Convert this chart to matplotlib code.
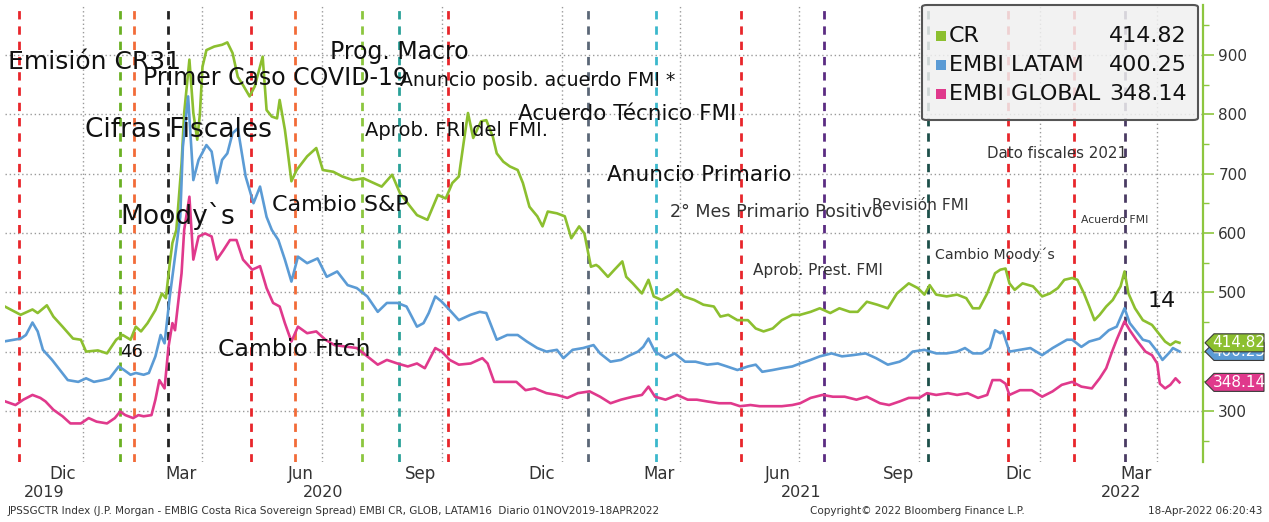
import matplotlib
matplotlib.use("Agg")
import matplotlib.pyplot as plt
import matplotlib.transforms as mtransforms
from matplotlib.patches import FancyBboxPatch, Polygon, Rectangle
import pandas as pd

W, H = 1269, 522

# ---- data (spread, bp) ----
cr_dates = [
    "2019-11-01", "2019-11-14", "2019-11-23", "2019-11-27", "2019-12-04", "2019-12-09", "2019-12-16", "2019-12-24", "2019-12-30",
    "2020-01-03", "2020-01-12", "2020-01-19", "2020-01-26", "2020-01-31", "2020-02-06", "2020-02-10", "2020-02-14", "2020-02-19", "2020-02-25",
    "2020-03-01", "2020-03-04", "2020-03-07", "2020-03-09", "2020-03-12", "2020-03-16", "2020-03-18", "2020-03-22", "2020-03-25", "2020-03-28", "2020-03-30",
    "2020-04-01", "2020-04-04", "2020-04-10", "2020-04-16", "2020-04-20", "2020-04-24", "2020-04-28",
    "2020-05-02", "2020-05-07", "2020-05-11", "2020-05-17", "2020-05-20", "2020-05-24", "2020-05-28", "2020-05-30",
    "2020-06-03", "2020-06-05", "2020-06-08", "2020-06-12", "2020-06-20", "2020-06-27",
    "2020-07-02", "2020-07-10", "2020-07-17", "2020-07-25",
    "2020-08-02", "2020-08-10", "2020-08-16", "2020-08-24", "2020-08-30",
    "2020-09-07", "2020-09-12", "2020-09-20", "2020-09-28",
    "2020-10-04", "2020-10-09", "2020-10-14", "2020-10-18", "2020-10-21", "2020-10-25", "2020-10-31",
    "2020-11-04", "2020-11-09", "2020-11-12", "2020-11-17", "2020-11-22", "2020-11-28",
    "2020-12-02", "2020-12-07", "2020-12-13", "2020-12-17", "2020-12-21", "2020-12-28",
    "2021-01-03", "2021-01-08", "2021-01-14", "2021-01-18", "2021-01-23", "2021-01-27", "2021-01-29",
    "2021-02-05", "2021-02-10", "2021-02-16", "2021-02-19", "2021-02-24",
    "2021-03-03", "2021-03-08", "2021-03-12", "2021-03-18", "2021-03-25", "2021-03-30",
    "2021-04-04", "2021-04-12", "2021-04-19", "2021-04-27",
    "2021-05-02", "2021-05-08", "2021-05-15", "2021-05-23", "2021-05-29",
    "2021-06-04", "2021-06-11", "2021-06-18", "2021-06-26",
    "2021-07-02", "2021-07-10", "2021-07-17", "2021-07-25",
    "2021-08-01", "2021-08-09", "2021-08-15", "2021-08-22", "2021-08-30",
    "2021-09-07", "2021-09-14", "2021-09-23", "2021-09-30",
    "2021-10-05", "2021-10-09", "2021-10-14", "2021-10-22", "2021-10-30",
    "2021-11-06", "2021-11-11", "2021-11-16", "2021-11-22", "2021-11-28",
    "2021-12-02", "2021-12-06", "2021-12-09", "2021-12-13", "2021-12-19", "2021-12-27",
    "2022-01-03", "2022-01-09", "2022-01-15", "2022-01-20", "2022-01-26", "2022-01-30",
    "2022-02-04", "2022-02-08", "2022-02-12", "2022-02-16", "2022-02-21", "2022-02-26",
    "2022-03-04", "2022-03-07", "2022-03-10", "2022-03-15", "2022-03-21", "2022-03-28",
    "2022-04-02", "2022-04-07", "2022-04-11", "2022-04-15", "2022-04-18",
]
cr_values = [
    477, 462, 471, 465, 478, 459, 442, 422, 420,
    400, 402, 397, 420, 428, 420, 442, 434, 448, 470,
    498, 490, 549, 583, 605, 717, 802, 892, 802, 757, 800,
    880, 908, 914, 917, 921, 903, 863,
    849, 830, 847, 897, 807, 796, 793, 824,
    774, 740, 687, 706, 729, 743,
    706, 703, 695, 689,
    692, 684, 678, 698, 667,
    644, 630, 622, 664,
    658, 684, 695, 757, 802, 760, 788,
    790, 762, 734, 720, 712, 706,
    684, 644, 628, 611, 636, 633,
    628, 591, 611, 599, 543, 546, 543,
    526, 538, 552, 526, 515,
    498, 521, 493, 487, 496, 505,
    493, 487, 479, 476,
    459, 462, 453, 453, 439,
    434, 439, 453, 462,
    462, 467, 473, 465,
    473, 467, 467, 484, 479,
    473, 498, 515, 507,
    496, 512, 496, 493, 496,
    490, 473, 473, 498, 532,
    538, 540, 515, 504, 515, 510,
    493, 498, 507, 521, 524, 521,
    498, 476, 453, 462, 476, 487,
    510, 535, 498, 473, 453, 445,
    431, 417, 411, 417, 414.82,
]

latam_dates = [
    "2019-11-01", "2019-11-14", "2019-11-18", "2019-11-23", "2019-11-27", "2019-12-01", "2019-12-08", "2019-12-14", "2019-12-20", "2019-12-28",
    "2020-01-03", "2020-01-09", "2020-01-16", "2020-01-21", "2020-01-28", "2020-02-01", "2020-02-06", "2020-02-10", "2020-02-16", "2020-02-20", "2020-02-25", "2020-02-29",
    "2020-03-03", "2020-03-07", "2020-03-11", "2020-03-15", "2020-03-17", "2020-03-21", "2020-03-25", "2020-03-29",
    "2020-04-04", "2020-04-08", "2020-04-12", "2020-04-16", "2020-04-20", "2020-04-24", "2020-04-28",
    "2020-05-04", "2020-05-10", "2020-05-15", "2020-05-20", "2020-05-24", "2020-05-29",
    "2020-06-03", "2020-06-08", "2020-06-13", "2020-06-20", "2020-06-28",
    "2020-07-05", "2020-07-13", "2020-07-21", "2020-07-28",
    "2020-08-05", "2020-08-13", "2020-08-20", "2020-08-28",
    "2020-09-04", "2020-09-12", "2020-09-17", "2020-09-21", "2020-09-26",
    "2020-10-01", "2020-10-07", "2020-10-14", "2020-10-23", "2020-10-30",
    "2020-11-04", "2020-11-12", "2020-11-20", "2020-11-28",
    "2020-12-05", "2020-12-13", "2020-12-20", "2020-12-28",
    "2021-01-02", "2021-01-09", "2021-01-17", "2021-01-25", "2021-01-30",
    "2021-02-07", "2021-02-15", "2021-02-22", "2021-02-28",
    "2021-03-04", "2021-03-08", "2021-03-13", "2021-03-21", "2021-03-28",
    "2021-04-05", "2021-04-13", "2021-04-22", "2021-04-30",
    "2021-05-07", "2021-05-15", "2021-05-23", "2021-05-29",
    "2021-06-03", "2021-06-11", "2021-06-18", "2021-06-26",
    "2021-07-02", "2021-07-10", "2021-07-17", "2021-07-26",
    "2021-08-03", "2021-08-11", "2021-08-21", "2021-08-29",
    "2021-09-07", "2021-09-16", "2021-09-21", "2021-09-26",
    "2021-10-05", "2021-10-14", "2021-10-22", "2021-10-30",
    "2021-11-05", "2021-11-11", "2021-11-18", "2021-11-24", "2021-11-28",
    "2021-12-02", "2021-12-04", "2021-12-09", "2021-12-17", "2021-12-25",
    "2022-01-03", "2022-01-11", "2022-01-22", "2022-01-26",
    "2022-02-02", "2022-02-08", "2022-02-16", "2022-02-23",
    "2022-03-01", "2022-03-07", "2022-03-11", "2022-03-16", "2022-03-21", "2022-03-26",
    "2022-04-01", "2022-04-05", "2022-04-11", "2022-04-13", "2022-04-18",
]
latam_values = [
    417, 422, 428, 449, 434, 403, 386, 369, 352, 349,
    355, 349, 352, 355, 375, 369, 361, 364, 361, 364, 392, 428,
    414, 493, 560, 627, 745, 830, 689, 723,
    748, 737, 684, 723, 734, 768, 776,
    695, 650, 678, 627, 605, 588,
    555, 518, 560, 549, 557,
    526, 535, 512, 507,
    493, 467, 482, 482,
    476, 442, 448, 465, 493,
    484, 470, 453, 462, 467,
    465, 420, 428, 428,
    417, 406, 400, 403,
    389, 403, 406, 411, 397,
    383, 386, 394, 400,
    408, 422, 400, 389, 397,
    383, 383, 378, 380,
    375, 369, 375, 378,
    366, 369, 372, 375,
    380, 386, 392, 397,
    392, 394, 397, 389,
    378, 383, 389, 400,
    403, 397, 397, 400,
    406, 397, 397, 406, 436,
    431, 434, 400, 403, 406,
    394, 406, 420, 420,
    408, 417, 422, 436,
    442, 473, 448, 434, 420, 417,
    400, 386, 400, 406, 400.25,
]

global_dates = [
    "2019-11-01", "2019-11-10", "2019-11-16", "2019-11-23", "2019-11-29", "2019-12-03", "2019-12-09", "2019-12-16", "2019-12-22", "2019-12-30",
    "2020-01-05", "2020-01-11", "2020-01-19", "2020-01-25", "2020-01-29", "2020-02-02", "2020-02-08", "2020-02-12", "2020-02-16", "2020-02-22", "2020-02-25", "2020-02-28",
    "2020-03-03", "2020-03-06", "2020-03-09", "2020-03-11", "2020-03-16", "2020-03-18", "2020-03-22", "2020-03-25", "2020-03-29",
    "2020-04-03", "2020-04-08", "2020-04-12", "2020-04-17", "2020-04-22", "2020-04-27",
    "2020-05-02", "2020-05-09", "2020-05-15", "2020-05-20", "2020-05-25", "2020-05-30",
    "2020-06-03", "2020-06-08", "2020-06-13", "2020-06-20", "2020-06-27",
    "2020-07-04", "2020-07-11", "2020-07-21", "2020-07-28",
    "2020-08-05", "2020-08-13", "2020-08-20", "2020-08-28",
    "2020-09-05", "2020-09-12", "2020-09-18", "2020-09-26",
    "2020-10-01", "2020-10-07", "2020-10-14", "2020-10-23",
    "2020-11-01", "2020-11-05", "2020-11-10", "2020-11-18", "2020-11-27",
    "2020-12-04", "2020-12-11", "2020-12-20", "2020-12-28",
    "2021-01-05", "2021-01-13", "2021-01-22", "2021-01-30",
    "2021-02-07", "2021-02-15", "2021-02-24",
    "2021-03-03", "2021-03-08", "2021-03-13", "2021-03-21", "2021-03-30",
    "2021-04-07", "2021-04-14", "2021-04-22",
    "2021-05-01", "2021-05-10", "2021-05-17", "2021-05-25",
    "2021-06-01", "2021-06-09", "2021-06-18", "2021-06-26",
    "2021-07-02", "2021-07-10", "2021-07-19", "2021-07-27",
    "2021-08-05", "2021-08-14", "2021-08-22",
    "2021-09-01", "2021-09-08", "2021-09-16", "2021-09-23",
    "2021-10-01", "2021-10-07", "2021-10-14", "2021-10-23", "2021-10-30",
    "2021-11-07", "2021-11-15", "2021-11-22", "2021-11-26",
    "2021-12-02", "2021-12-06", "2021-12-09", "2021-12-17", "2021-12-26",
    "2022-01-03", "2022-01-11", "2022-01-18", "2022-01-26",
    "2022-02-02", "2022-02-10", "2022-02-16", "2022-02-21", "2022-02-26",
    "2022-03-01", "2022-03-07", "2022-03-11", "2022-03-16", "2022-03-23", "2022-03-28",
    "2022-04-01", "2022-04-03", "2022-04-07", "2022-04-11", "2022-04-15", "2022-04-18",
]
global_values = [
    317, 310, 319, 327, 322, 316, 302, 291, 279, 279,
    288, 282, 279, 288, 299, 293, 288, 293, 291, 293, 319, 352,
    338, 408, 448, 436, 532, 605, 661, 555, 594,
    599, 594, 555, 571, 588, 588,
    555, 538, 544, 507, 482, 476,
    448, 417, 442, 431, 434,
    420, 411, 408, 406,
    392, 378, 386, 380,
    375, 380, 372, 406,
    400, 386, 378, 380,
    389, 380, 349, 349, 349,
    335, 338, 330, 327,
    322, 330, 333, 324,
    313, 319, 324,
    327, 341, 324, 319, 327,
    319, 319, 316,
    313, 313, 308, 310,
    308, 308, 308, 310,
    313, 322, 327, 324,
    324, 319, 324,
    313, 310, 316, 322,
    322, 330, 327, 330, 327,
    330, 322, 327, 352,
    352, 346, 327, 335, 335,
    324, 333, 344, 349,
    341, 338, 355, 372, 403,
    420, 451, 436, 420, 400, 394,
    380, 346, 338, 344, 355, 348.14,
]

series_names = ["CR", "EMBI LATAM", "EMBI GLOBAL"]
series_last = ["414.82", "400.25", "348.14"]
series_colors = ["#8cbf2f", "#5b9bd5", "#e0398c"]

event_dates = [
    "2019-11-13", "2020-01-29", "2020-02-09", "2020-03-06", "2020-05-08", "2020-06-11",
    "2020-08-01", "2020-08-29", "2020-10-06", "2021-01-21", "2021-03-14", "2021-05-18",
    "2021-07-20", "2021-10-08", "2021-12-08", "2022-01-27", "2022-03-07",
]
event_colors = [
    "#e8262b", "#6ab023", "#f26b38", "#222222", "#e8262b", "#f26b38",
    "#8cc63f", "#2aa198", "#e8262b", "#5b6777", "#3bb8cc", "#e8262b",
    "#5b2c82", "#1d4f4a", "#e8262b", "#e8262b", "#4a3b63",
]

# (text, left px, centre px, size, colour)
notes = [
    ("Emisión CR31", 8, 62, 18, "#111111"),
    ("Primer Caso COVID-19", 143, 78, 17, "#111111"),
    ("Prog. Macro", 330, 52, 17, "#111111"),
    ("Anuncio posib. acuerdo FMI *", 400, 80, 13.6, "#111111"),
    ("Cifras Fiscales", 85, 130, 19, "#111111"),
    ("Aprob. FRI del FMI.", 365, 131, 14, "#111111"),
    ("Acuerdo Técnico FMI", 518, 114, 15.5, "#111111"),
    ("Anuncio Primario", 607, 175, 15.6, "#111111"),
    ("Moody`s", 120, 216, 19, "#111111"),
    ("Cambio S&P", 272, 205, 16, "#111111"),
    ("2° Mes Primario Positivo", 670, 212, 12.6, "#333333"),
    ("Revisión FMI", 872, 206, 11.2, "#333333"),
    ("Dato fiscales 2021", 987, 154, 10.8, "#333333"),
    ("Acuerdo FMI", 1081, 220, 7.8, "#333333"),
    ("Aprob. Prest. FMI", 753, 271, 11.1, "#333333"),
    ("Cambio Moody´s", 935, 255, 10.2, "#333333"),
    ("46", 120, 352, 13, "#111111"),
    ("Cambio Fitch", 218, 350, 16.9, "#111111"),
    ("14", 1148, 301, 16, "#111111"),
]

month_labels = ["Dic", "Mar", "Jun", "Sep", "Dic", "Mar", "Jun", "Sep", "Dic", "Mar"]
month_label_dates = ["2019-12-16", "2020-03-16", "2020-06-15", "2020-09-15", "2020-12-16",
                     "2021-03-16", "2021-06-15", "2021-09-15", "2021-12-16", "2022-03-16"]
years = [2019, 2020, 2021, 2022]


def fx(x):
    return x / W


def fy(y):
    return 1 - y / H


plt.rcParams["font.family"] = ["DejaVu Sans"]
fig = plt.figure(figsize=(W / 100, H / 100), dpi=100)
fig.patch.set_facecolor("white")
ax = fig.add_axes([fx(5), fy(462), fx(1203) - fx(5), fy(5) - fy(462)])

x0, x1 = pd.Timestamp("2019-11-02"), pd.Timestamp("2022-05-06")
ax.set_xlim(x0, x1)
ax.set_ylim(214, 984)

for s in ("top", "left", "bottom"):
    ax.spines[s].set_visible(False)
ax.spines["right"].set_color("#8dc63f")
ax.spines["right"].set_linewidth(1.6)

ax.yaxis.tick_right()
ax.set_yticks(range(300, 1000, 100))
ax.set_yticks(range(250, 1000, 100), minor=True)
ax.tick_params(axis="y", which="major", direction="out", length=8, width=1.2,
               colors="#8dc63f", labelcolor="#333333", labelsize=11, pad=3)
ax.tick_params(axis="y", which="minor", direction="out", length=4, width=1, colors="#8dc63f")
ax.set_xticks([])

# dotted grid
grid_kw = dict(color="#9a9a9a", linestyle=(0, (1, 2)), linewidth=1, zorder=1)
for v in range(300, 1000, 100):
    ax.axhline(v, **grid_kw)
for d in pd.date_range("2020-01-01", "2022-04-01", freq="QS"):
    ax.axvline(d, **grid_kw)

# event lines
for d, c in zip(event_dates, event_colors):
    ax.axvline(pd.Timestamp(d), color=c, linewidth=2, linestyle=(0, (3, 2.5)), zorder=2)

# series
for dates, vals, col in [(cr_dates, cr_values, series_colors[0]),
                         (latam_dates, latam_values, series_colors[1]),
                         (global_dates, global_values, series_colors[2])]:
    ax.plot(pd.to_datetime(dates), vals, color=col, linewidth=1.9, zorder=3,
            solid_joinstyle="round")

# month / year labels under the plot
xt = ax.get_xaxis_transform()
for lab, d in zip(month_labels, month_label_dates):
    ax.text(pd.Timestamp(d), -0.026, lab, transform=xt, ha="center", va="center",
            fontsize=12, color="#333333", clip_on=False)
for yr in years:
    a = max(pd.Timestamp(f"{yr}-01-01"), x0)
    b = min(pd.Timestamp(f"{yr + 1}-01-01"), x1)
    ax.text(a + (b - a) / 2, -0.066, str(yr), transform=xt, ha="center", va="center",
            fontsize=11.5, color="#333333", clip_on=False)

# annotations
for txt, px, py, size, col in notes:
    fig.text(fx(px), fy(py), txt, ha="left", va="center", fontsize=size, color=col, zorder=5)

# legend box
fig.add_artist(FancyBboxPatch((fx(922), fy(120)), fx(1198) - fx(922), fy(5) - fy(120),
                              boxstyle="round,pad=0,rounding_size=0.004",
                              facecolor=(0.94, 0.94, 0.94, 0.85), edgecolor="#555555",
                              linewidth=1.5, transform=fig.transFigure, zorder=6))
for i, (name, last, col) in enumerate(zip(series_names, series_last, series_colors)):
    yc = 36 + i * 29
    fig.add_artist(Rectangle((fx(936), fy(yc + 5)), fx(10), fy(0) - fy(10),
                             facecolor=col, edgecolor="none", transform=fig.transFigure, zorder=7))
    fig.text(fx(949), fy(yc), name, ha="left", va="center", fontsize=16, color="#111111", zorder=7)
    fig.text(fx(1187), fy(yc), last, ha="right", va="center", fontsize=16, color="#111111", zorder=7)

# last-value tags on the right axis (CR drawn last so it sits on top, as in the original)
blend = mtransforms.blended_transform_factory(fig.transFigure, ax.transData)
half = 9 * (984 - 214) / (462 - 5)
tag_order = [(1, latam_values[-1]), (2, global_values[-1]), (0, cr_values[-1])]
for k, (idx, v) in enumerate(tag_order):
    col = series_colors[idx]
    z = 8 + 2 * k
    poly = [(fx(1205), v), (fx(1214), v + half), (fx(1264), v + half),
            (fx(1264), v - half), (fx(1214), v - half)]
    fig.add_artist(Polygon(poly, closed=True, facecolor=col, edgecolor="#3a3a3a",
                           linewidth=0.8, transform=blend, zorder=z))
    fig.text(fx(1239), v, series_last[idx], transform=blend, ha="center", va="center",
             fontsize=11, color="white", zorder=z + 1)

# footer
fig.text(fx(8), fy(511), "JPSSGCTR Index (J.P. Morgan - EMBIG Costa Rica Sovereign Spread) EMBI CR, GLOB, LATAM16  Diario 01NOV2019-18APR2022",
         ha="left", va="center", fontsize=7.5, color="#333333")
fig.text(fx(810), fy(511), "Copyright© 2022 Bloomberg Finance L.P.", ha="left", va="center",
         fontsize=7.5, color="#333333")
fig.text(fx(1262), fy(511), "18-Apr-2022 06:20:43", ha="right", va="center",
         fontsize=7.5, color="#333333")

fig.savefig("out.png", dpi=100)
